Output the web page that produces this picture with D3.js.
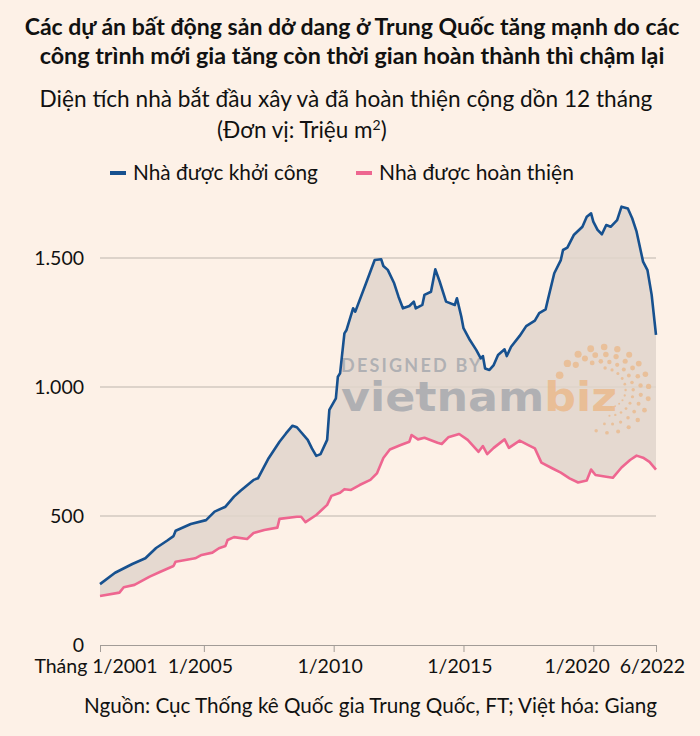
<!DOCTYPE html>
<html>
<head>
<meta charset="utf-8">
<script src="https://cdn.jsdelivr.net/npm/d3@7"></script>
<style>
  body { margin: 0; background: #fdf1e7; }
  svg { display: block; font-family: Lato, "Noto Sans", sans-serif; }
</style>
</head>
<body>
<svg width="700" height="736"></svg>
<script>
// Nha duoc khoi cong (floor space started, 12-month rolling, million m2)
var startDates = ["2001-01","2001-08","2002-04","2002-10","2003-03","2003-08","2003-11","2003-12","2004-07","2005-02",
  "2005-06","2005-11","2006-03","2006-06","2006-12","2007-02","2007-07","2007-12","2008-03","2008-06",
  "2008-08","2009-01","2009-03","2009-05","2009-07","2009-10","2009-11","2010-02","2010-03","2010-04",
  "2010-06","2010-07","2010-10","2010-11","2011-04","2011-08","2011-11","2011-12","2012-02","2012-05",
  "2012-07","2012-09","2012-12","2013-02","2013-03","2013-06","2013-07","2013-10","2013-12","2014-02",
  "2014-05","2014-09","2014-10","2014-12","2015-01","2015-04","2015-07","2015-09","2015-10","2015-11",
  "2016-01","2016-03","2016-05","2016-08","2016-09","2016-11","2017-03","2017-06","2017-10","2017-12",
  "2018-03","2018-04","2018-07","2018-10","2018-11","2019-01","2019-04","2019-08","2019-10","2019-12",
  "2020-01","2020-03","2020-05","2020-07","2020-09","2020-12","2021-02","2021-05","2021-07","2021-09",
  "2021-12","2022-02","2022-04","2022-06"];
var startValues = [236,280,314,336,376,404,422,443,469,484,
  517,536,575,598,640,646,724,788,820,850,
  844,795,762,733,740,795,911,956,1040,1053,
  1208,1221,1305,1292,1402,1492,1495,1469,1454,1402,
  1350,1305,1314,1331,1305,1318,1357,1369,1456,1408,
  1331,1318,1344,1273,1228,1182,1143,1111,1120,1072,
  1066,1085,1124,1146,1120,1156,1198,1236,1257,1286,
  1301,1337,1441,1492,1531,1540,1589,1621,1660,1673,
  1641,1609,1592,1628,1621,1647,1699,1692,1654,1602,
  1486,1453,1357,1202];

// Nha duoc hoan thien (floor space completed)
var completeDates = ["2001-01","2001-10","2001-12","2002-05","2002-12","2003-05","2003-11","2003-12","2004-09","2004-12",
  "2005-05","2005-08","2005-11","2005-12","2006-03","2006-09","2006-12","2007-05","2007-11","2007-12",
  "2008-08","2008-10","2008-12","2009-05","2009-10","2009-12","2010-04","2010-06","2010-09","2011-01",
  "2011-06","2011-09","2011-12","2012-03","2012-08","2012-12","2013-01","2013-04","2013-07","2014-01",
  "2014-03","2014-06","2014-11","2015-03","2015-08","2015-10","2015-12","2016-03","2016-08","2016-10",
  "2017-03","2017-07","2017-10","2018-01","2018-06","2018-10","2019-02","2019-06","2019-10","2019-12",
  "2020-02","2020-07","2020-10","2021-02","2021-06","2021-09","2021-12","2022-03","2022-06"];
var completeValues = [190,203,224,233,265,284,306,323,336,349,
  358,375,384,407,418,411,434,446,455,489,
  497,497,476,504,543,578,590,604,601,620,
  640,665,725,758,775,788,814,797,803,784,
  779,805,818,795,749,771,740,764,797,764,
  792,775,762,707,685,668,646,630,638,680,
  659,652,648,688,717,734,726,710,680];

var yTicks = [0, 500, 1000, 1500];
var yTickLabels = ["0", "500", "1.000", "1.500"];
var xTickDates = ["2001-01", "2005-01", "2010-01", "2015-01", "2020-01", "2022-06"];
var xTickLabels = ["Tháng 1/2001", "1/2005", "1/2010", "1/2015", "1/2020", "6/2022"];
var seriesNames = ["Nhà được khởi công", "Nhà được hoàn thiện"];

var parse = d3.timeParse("%Y-%m");
var blue = "#17518f", pink = "#ee6690";

var svg = d3.select("svg");
svg.append("rect").attr("width", 700).attr("height", 736).attr("fill", "#fdf1e7");

// fit a text element to a target width by adjusting its font size
function fit(sel, w) {
    var fs = parseFloat(sel.attr("font-size"));
    var len = sel.node().getComputedTextLength();
    sel.attr("font-size", (fs * w / len).toFixed(2));
    return sel;
}

// Titles
fit(svg.append("text").attr("x", 352).attr("y", 35).attr("text-anchor", "middle")
    .attr("font-size", 20).attr("font-weight", "bold").attr("fill", "#111")
    .text("Các dự án bất động sản dở dang ở Trung Quốc tăng mạnh do các"), 655);
fit(svg.append("text").attr("x", 352).attr("y", 64).attr("text-anchor", "middle")
    .attr("font-size", 20).attr("font-weight", "bold").attr("fill", "#111")
    .text("công trình mới gia tăng còn thời gian hoàn thành thì chậm lại"), 625);
fit(svg.append("text").attr("x", 346).attr("y", 107).attr("text-anchor", "middle")
    .attr("font-size", 20).attr("fill", "#111")
    .text("Diện tích nhà bắt đầu xây và đã hoàn thiện cộng dồn 12 tháng"), 613);
var unit = svg.append("text").attr("x", 217).attr("y", 138)
    .attr("font-size", 22.5).attr("fill", "#111");
unit.append("tspan").text("(Đơn vị: Triệu m");
unit.append("tspan").attr("dy", -8).attr("font-size", 14).text("2");
unit.append("tspan").attr("dy", 8).text(")");

// Legend
var legendX = [110, 356];
var legendW = [185, 195];
[blue, pink].forEach(function(c, i) {
    svg.append("line").attr("x1", legendX[i]).attr("x2", legendX[i] + 16)
        .attr("y1", 173).attr("y2", 173).attr("stroke", c).attr("stroke-width", 4);
    fit(svg.append("text").attr("x", legendX[i] + 23).attr("y", 180)
        .attr("font-size", 20).attr("fill", "#111").text(seriesNames[i]), legendW[i]);
});

// Scales
var x = d3.scaleTime()
    .domain([parse("2001-01"), parse("2022-06")])
    .range([100, 656]);
var y = d3.scaleLinear().domain([0, 1500]).range([645, 258]);

var starts = startDates.map(function(d, i) { return {date: parse(d), value: startValues[i]}; });
var completes = completeDates.map(function(d, i) { return {date: parse(d), value: completeValues[i]}; });

// Gridlines
svg.append("g").selectAll("line")
    .data(yTicks.slice(1))
    .enter().append("line")
    .attr("x1", x.range()[0]).attr("x2", x.range()[1])
    .attr("y1", function(d) { return y(d); }).attr("y2", function(d) { return y(d); })
    .attr("stroke", "#bdb5ad").attr("stroke-width", 1);

// Band between the two series
var line = d3.line()
    .x(function(d) { return x(d.date); })
    .y(function(d) { return y(d.value); });
var band = starts.concat(completes.slice().reverse());
svg.append("path")
    .attr("d", line(band) + "Z")
    .attr("fill", "#e1d5cb")
    .attr("fill-opacity", 0.85);

// Watermark
var wm = svg.append("g");
wm.append("text").attr("x", 341).attr("y", 372).attr("font-size", 18).attr("font-weight", "bold")
    .attr("letter-spacing", 2.2).attr("fill", "#a7a9ae").attr("fill-opacity", 0.85).text("DESIGNED BY");
var wmt = wm.append("text").attr("x", 341).attr("y", 411).attr("font-size", 40)
    .attr("font-family", "'DejaVu Sans', sans-serif").attr("font-weight", "bold")
    .attr("textLength", 276).attr("lengthAdjust", "spacingAndGlyphs");
wmt.append("tspan").attr("fill", "#a7a9ae").attr("fill-opacity", 0.85).text("vietnam");
wmt.append("tspan").attr("fill", "#eab98c").attr("fill-opacity", 0.85).text("biz");
var dots = [];
[[0, 17], [1, 16], [2, 14], [3, 11]].forEach(function(r) {
    var j = r[0], n = r[1];
    var a0 = -158 + j * 22, a1 = 105 - j * 12;
    for (var k = 0; k < n; k++) {
        var t = k / (n - 1);
        var a = (a0 + t * (a1 - a0)) * Math.PI / 180;
        var rad = 50 - j * 8 - 12 * t;
        dots.push({x: 606 + rad * Math.cos(a), y: 394 + rad * Math.sin(a), r: (3.8 - j * 0.7) * (1 - 0.55 * t)});
    }
});
wm.selectAll("circle").data(dots).enter().append("circle")
    .attr("cx", function(d) { return d.x; }).attr("cy", function(d) { return d.y; })
    .attr("r", function(d) { return d.r; })
    .attr("fill", "#eab98c").attr("fill-opacity", 0.8);

// Series lines
svg.append("path").datum(completes).attr("d", line)
    .attr("fill", "none").attr("stroke", pink).attr("stroke-width", 2.6).attr("stroke-linejoin", "round");
svg.append("path").datum(starts).attr("d", line)
    .attr("fill", "none").attr("stroke", blue).attr("stroke-width", 2.6).attr("stroke-linejoin", "round");

// Y labels
svg.append("g").selectAll("text")
    .data(yTicks)
    .enter().append("text")
    .attr("x", 84).attr("y", function(d) { return y(d) + 7; })
    .attr("text-anchor", "end").attr("font-size", 19.5).attr("fill", "#111")
    .text(function(d, i) { return yTickLabels[i]; });

// X axis
var xAxis = svg.append("g")
    .attr("transform", "translate(0," + y(0) + ")")
    .call(d3.axisBottom(x)
        .tickValues(xTickDates.map(parse))
        .tickSize(7)
        .tickSizeOuter(0)
        .tickFormat(function(d, i) { return xTickLabels[i]; }));
xAxis.select(".domain").attr("stroke", "#a29c97");
xAxis.selectAll(".tick line").attr("stroke", "#a29c97");
xAxis.selectAll(".tick text")
    .attr("font-family", "Lato, 'Noto Sans', sans-serif")
    .attr("font-size", 19.5).attr("fill", "#111").attr("y", 14).attr("dy", "0.71em")
    .attr("dx", -4);
// nudge labels that would collide with the next one
var labels = xAxis.selectAll(".tick text").nodes();
for (var i = labels.length - 2; i >= 0; i--) {
    var a = labels[i].getBoundingClientRect(), b = labels[i + 1].getBoundingClientRect();
    if (a.right > b.left - 10) {
        var dx = +d3.select(labels[i]).attr("dx") - (a.right - b.left + 10);
        d3.select(labels[i]).attr("dx", dx);
    }
}

// Source
fit(svg.append("text").attr("x", 657).attr("y", 713).attr("text-anchor", "end")
    .attr("font-size", 19).attr("fill", "#111")
    .text("Nguồn: Cục Thống kê Quốc gia Trung Quốc, FT; Việt hóa: Giang"), 573);
</script>
</body>
</html>
